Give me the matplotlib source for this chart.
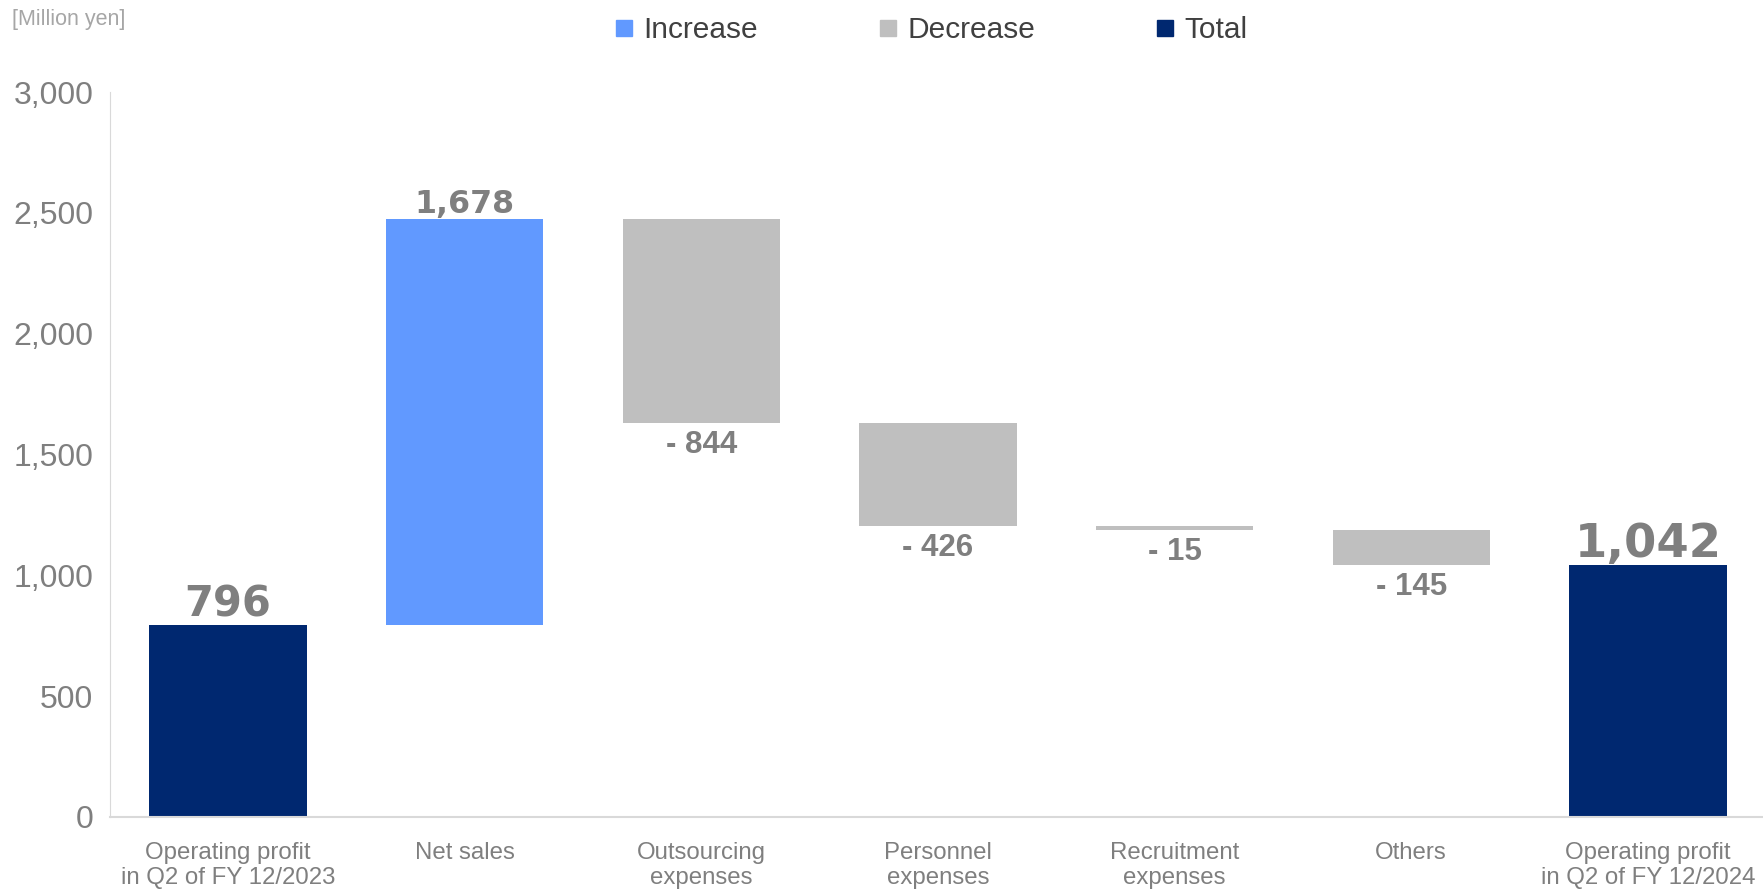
import matplotlib
matplotlib.use('Agg')
import matplotlib.pyplot as plt
from matplotlib.lines import Line2D
import numpy as np

plt.rcParams['font.family'] = ['Liberation Sans', 'DejaVu Sans']

""" DATOS """
categories = ['Operating profit\nin Q2 of FY 12/2023', 'Net sales', 'Outsourcing\nexpenses',
              'Personnel\nexpenses', 'Recruitment\nexpenses', 'Others',
              'Operating profit\nin Q2 of FY 12/2024']
values = [796, 1678, -844, -426, -15, -145, 1042]
kinds = ['total', 'increase', 'decrease', 'decrease', 'decrease', 'decrease', 'total']
value_labels = ['796', '1,678', '- 844', '- 426', '- 15', '- 145', '1,042']
y_ticks = [0, 500, 1000, 1500, 2000, 2500, 3000]

# estilos
colors = {'increase': '#6199FF', 'decrease': '#BFBFBF', 'total': '#002870'}
label_sizes = [30, 22.8, 22.5, 22.5, 22.5, 22.5, 33.5]

# calcular bases del waterfall
bottoms, heights = [], []
running = 0
for v, k in zip(values, kinds):
    if k == 'total':
        bottoms.append(0)
        heights.append(v)
        running = v
    elif v >= 0:
        bottoms.append(running)
        heights.append(v)
        running += v
    else:
        running += v
        bottoms.append(running)
        heights.append(-v)

fig = plt.figure(figsize=(17.63, 8.89), dpi=100)
ax = fig.add_axes([0.0623, 0.081, 0.9395, 0.8155])

x = np.arange(len(categories))
ax.bar(x, heights, bottom=bottoms, width=0.665,
       color=[colors[k] for k in kinds], zorder=2)

# etiquetas de valores
for i, k in enumerate(kinds):
    top = bottoms[i] + heights[i]
    if k == 'decrease':
        ax.annotate(value_labels[i], (x[i], bottoms[i]), xytext=(0, -5),
                    textcoords='offset points', ha='center', va='top',
                    fontsize=label_sizes[i], fontweight='bold', color='#7F7F7F')
    else:
        off = 6 if k == 'total' else 4.5
        ax.annotate(value_labels[i], (x[i], top), xytext=(0, off),
                    textcoords='offset points', ha='center', va='baseline',
                    fontsize=label_sizes[i], fontweight='bold', color='#7F7F7F',
                    family='DejaVu Sans', zorder=3)

ax.set_xlim(-0.5, 6.5)
ax.set_ylim(0, 3000)
ax.set_yticks(y_ticks)
ax.set_yticklabels([f'{t:,}' for t in y_ticks])
ax.set_xticks(x)
ax.set_xticklabels(categories, linespacing=1.2)
ax.tick_params(axis='y', length=0, pad=12, labelsize=23, labelcolor='#7F7F7F')
ax.tick_params(axis='x', length=0, pad=18, labelsize=17.3, labelcolor='#7F7F7F')

for s in ['top', 'right']:
    ax.spines[s].set_visible(False)
ax.spines['left'].set_color('#D9D9D9')
ax.spines['bottom'].set_color('#D9D9D9')
ax.spines['bottom'].set_linewidth(1.5)

fig.text(0.007, 0.99, '[Million yen]', fontsize=15.5, color='#A6A6A6', ha='left', va='top')

handles = [Line2D([], [], marker='s', linestyle='none', markersize=12,
                  color=colors[k]) for k in ['increase', 'decrease', 'total']]
fig.legend(handles, ['Increase', 'Decrease', 'Total'], loc='center',
           bbox_to_anchor=(0.528, 0.966), ncol=3, frameon=False, fontsize=21.5,
           handlelength=0.7, handletextpad=0.3, columnspacing=4.0,
           labelcolor='#404040')

fig.savefig('out.png', dpi=100)
